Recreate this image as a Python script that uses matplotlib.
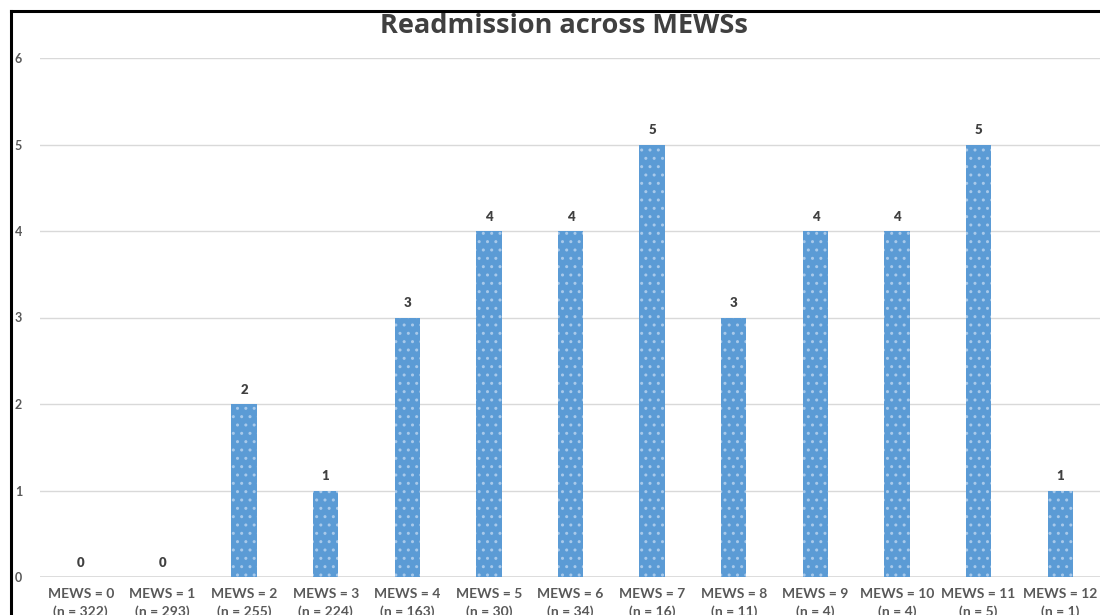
import matplotlib
matplotlib.use("Agg")
import matplotlib.pyplot as plt
from matplotlib.lines import Line2D

plt.rcParams['hatch.linewidth'] = 1.0

categories = ["MEWS = 0", "MEWS = 1", "MEWS = 2", "MEWS = 3", "MEWS = 4", "MEWS = 5",
              "MEWS = 6", "MEWS = 7", "MEWS = 8", "MEWS = 9", "MEWS = 10", "MEWS = 11", "MEWS = 12"]
n_counts = [322, 293, 255, 224, 163, 30, 34, 16, 11, 4, 4, 5, 1]
readmissions = [0, 0, 2, 1, 3, 4, 4, 5, 3, 4, 4, 5, 1]
yticks = [0, 1, 2, 3, 4, 5, 6]
title = "Readmission across MEWSs"

FONT = ["Lato", "DejaVu Sans"]

fig = plt.figure(figsize=(11, 6.15), dpi=100)
ax = fig.add_axes([40/1100, (615-577)/615, 1061/1100, (577-58)/615])

x = list(range(len(categories)))
ax.bar(x, readmissions, width=0.31, color="#5b9bd5", edgecolor="#a8c9ea",
       linewidth=0, hatch="..", zorder=3)

for xi, v in zip(x, readmissions):
    ax.annotate(str(v), (xi, v), xytext=(0, 6), textcoords="offset points",
                ha="center", va="bottom", fontsize=9.5, fontweight="heavy",
                color="#404040", family=FONT)

ax.set_xlim(-0.5, len(categories) - 0.5)
ax.set_ylim(0, 6)
ax.set_yticks(yticks)
ax.set_yticklabels([str(t) for t in yticks], fontsize=9, fontweight="bold",
                   color="#595959", family=FONT)
ax.set_xticks(x)
ax.set_xticklabels([f"{c}\n(n = {n})" for c, n in zip(categories, n_counts)],
                   fontsize=10, fontweight="bold", color="#595959", family=FONT,
                   linespacing=1.45)
ax.tick_params(axis="both", length=0)
ax.tick_params(axis="y", pad=13)
ax.tick_params(axis="x", pad=8)
ax.grid(axis="y", color="#d9d9d9", linewidth=1, zorder=0)
for s in ax.spines.values():
    s.set_visible(False)
ax.axhline(0, color="#d9d9d9", linewidth=1.2, zorder=1)

fig.text(564/1100, 1 - 26/615, title, ha="center", va="center", fontsize=19.5,
         fontweight="bold", color="#404040", family=["Open Sans", "DejaVu Sans"])

# outer border (left and top)
fig.add_artist(Line2D([11/1100, 11/1100], [0, 1 - 11/615], color="black", lw=2.2,
                      transform=fig.transFigure))
fig.add_artist(Line2D([11/1100, 1], [1 - 11/615, 1 - 11/615], color="black", lw=2.2,
                      transform=fig.transFigure))

fig.savefig("out.png", dpi=100)
